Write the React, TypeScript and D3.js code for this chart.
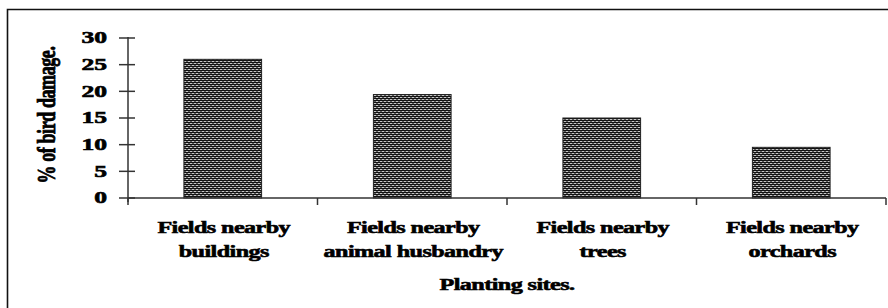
import React from 'react';
import * as d3 from 'd3';

const categories = [
  ['Fields nearby', 'buildings'],
  ['Fields nearby', 'animal husbandry'],
  ['Fields nearby', 'trees'],
  ['Fields nearby', 'orchards'],
];
const damage = [26, 19.4, 15, 9.5];
const yTicks = [0, 5, 10, 15, 20, 25, 30];
const xTitle = 'Planting sites.';
const yTitle = '% of bird damage.';

const W = 888;
const H = 308;
const font = '"Liberation Serif", "Times New Roman", serif';

// heavy, slightly smeared lettering like the scanned original
const textStyle = {
  fontFamily: font,
  fontWeight: 'bold' as const,
  fill: '#000',
  stroke: '#000',
  strokeWidth: 0.6,
};

export default function App() {
  const keys = categories.map((_, i) => String(i));
  const x = d3.scaleBand<string>().domain(keys).range([128, 886]).paddingInner(0.59).paddingOuter(0.295);
  const y = d3.scaleLinear().domain([0, 30]).range([198, 38]);
  const [x0, x1] = x.range();
  const bounds = d3.range(keys.length + 1).map((i) => x0 + i * x.step());
  const axisColor = '#333';

  return (
    <svg width={W} height={H} style={{ position: 'absolute', left: 0, top: 0, background: '#fff' }}>
      <defs>
        <pattern id="hatch" width={4} height={4} patternUnits="userSpaceOnUse">
          <rect width={4} height={4} fill="#111" />
          <rect x={0} y={1} width={2} height={1} fill="#c8c8c8" />
          <rect x={2} y={1} width={2} height={1} fill="#5a5a5a" />
          <rect x={2} y={3} width={2} height={1} fill="#c8c8c8" />
          <rect x={0} y={3} width={2} height={1} fill="#5a5a5a" />
        </pattern>
      </defs>

      {/* frame */}
      <path d={`M7.5,${H + 2} V9.5 H${W + 2}`} fill="none" stroke="#111" strokeWidth={1.6} />

      {/* bars */}
      {damage.map((v, i) => (
        <rect
          key={i}
          x={x(keys[i])}
          y={y(v)}
          width={x.bandwidth()}
          height={y(0) - y(v)}
          fill="url(#hatch)"
          stroke="#222"
          strokeWidth={1}
        />
      ))}

      {/* y axis */}
      <line x1={128} x2={128} y1={y(30) - 1} y2={y(0) + 4} stroke={axisColor} strokeWidth={1.5} />
      {yTicks.map((t) => (
        <g key={t}>
          <line x1={119} x2={135} y1={y(t)} y2={y(t)} stroke={axisColor} strokeWidth={1.5} />
          <text
            transform={`translate(107,${y(t)}) scale(1.6,1)`}
            textAnchor="end"
            dominantBaseline="central"
            fontSize={16}
            {...textStyle}
          >
            {t}
          </text>
        </g>
      ))}

      {/* x axis */}
      <line x1={x0} x2={x1} y1={y(0)} y2={y(0)} stroke={axisColor} strokeWidth={1.5} />
      {bounds.map((b, i) => (
        <line key={i} x1={b} x2={b} y1={y(0)} y2={y(0) + 7} stroke={axisColor} strokeWidth={1.5} />
      ))}

      {categories.map((lines, i) => {
        const cx = (x(keys[i]) as number) + x.bandwidth() / 2 + 1;
        return lines.map((ln, j) => (
          <text
            key={`${i}-${j}`}
            transform={`translate(${cx},${233 + j * 24}) scale(1.42,1)`}
            textAnchor="middle"
            fontSize={17}
            letterSpacing={-0.4}
            {...textStyle}
          >
            {ln}
          </text>
        ));
      })}

      <text
        transform={`translate(${(x0 + x1) / 2},290) scale(1.42,1)`}
        textAnchor="middle"
        fontSize={17}
        letterSpacing={-0.4}
        {...textStyle}
      >
        {xTitle}
      </text>

      <text
        transform={`translate(55,115) scale(1.4,1) rotate(-90)`}
        textAnchor="middle"
        fontSize={18}
        letterSpacing={-0.4}
        {...textStyle}
      >
        {yTitle}
      </text>
    </svg>
  );
}
